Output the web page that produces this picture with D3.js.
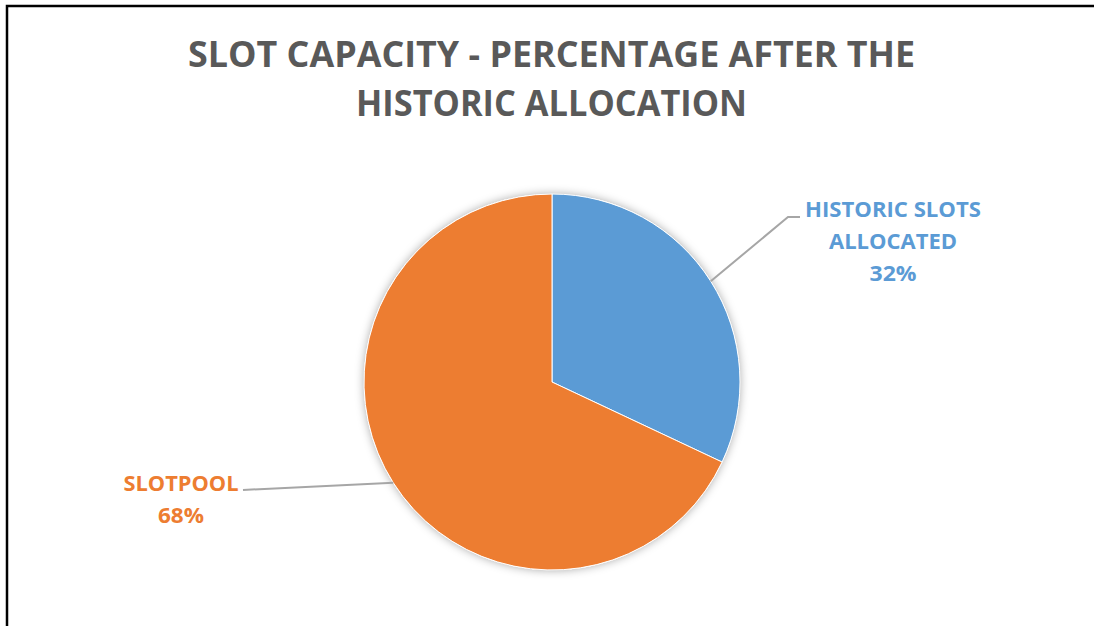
<!DOCTYPE html>
<html>
<head>
<meta charset="utf-8">
<script src="https://cdn.jsdelivr.net/npm/d3@7"></script>
<style>
  html, body { margin: 0; padding: 0; background: #fff; }
  svg { display: block; }
</style>
</head>
<body>
<svg id="chart" width="1094" height="626"></svg>
<script>
// ---- data ----
const categories = ["HISTORIC SLOTS ALLOCATED", "SLOTPOOL"];
const values = [32, 68];
const labelLines = [["HISTORIC SLOTS", "ALLOCATED"], ["SLOTPOOL"]];
const colors = ["#5B9BD5", "#ED7D31"];
const titleLines = ["SLOT CAPACITY - PERCENTAGE AFTER THE", "HISTORIC ALLOCATION"];

// ---- layout ----
const W = 1094, H = 626;
const cx = 552, cy = 382, R = 188;
const FONT = "'Open Sans', 'Noto Sans', sans-serif";

const svg = d3.select("#chart");

// defs: soft shadow
const defs = svg.append("defs");
const f = defs.append("filter").attr("id", "shadow")
  .attr("x", "-20%").attr("y", "-20%").attr("width", "140%").attr("height", "140%");
f.append("feDropShadow").attr("dx", 0).attr("dy", 0)
  .attr("stdDeviation", 5).attr("flood-color", "#000").attr("flood-opacity", 0.35);

// border (only top and left visible in the frame)
svg.append("rect").attr("x", 7).attr("y", 6).attr("width", 1300).attr("height", 1000)
  .attr("fill", "none").attr("stroke", "#000").attr("stroke-width", 2.5);

function fit(textSel, target) {
  textSel.each(function () {
    const w = this.getComputedTextLength();
    if (target && Math.abs(w - target) > 1) {
      d3.select(this).attr("textLength", target).attr("lengthAdjust", "spacingAndGlyphs");
    }
  });
}

// title
const titleBase = [67, 116];
const titleWidths = [727, 391];
titleLines.forEach((t, i) => {
  const tx = svg.append("text")
    .attr("x", 551.5).attr("y", titleBase[i])
    .attr("text-anchor", "middle")
    .attr("font-family", FONT).attr("font-weight", 700)
    .attr("font-size", 35).attr("fill", "#595959")
    .text(t);
  fit(tx, titleWidths[i]);
});

// pie
const pie = d3.pie().sort(null).value(d => d)(values);
const arc = d3.arc().innerRadius(0).outerRadius(R);
const g = svg.append("g").attr("transform", `translate(${cx},${cy})`);
g.append("circle").attr("r", R).attr("fill", "#fff").attr("filter", "url(#shadow)");
g.selectAll("path.slice").data(pie).join("path")
  .attr("class", "slice")
  .attr("d", arc)
  .attr("fill", (d, i) => colors[i])
  .attr("stroke", "#fff").attr("stroke-width", 1);

// leader lines & labels
const fmt = v => Math.round(v) + "%";
const total = d3.sum(values);
const labelPos = [
  { x: 893, y: 217, bend: [788, 217], end: [800, 217], widths: [176, 128, 47] },
  { x: 181, y: 491, bend: null, end: [243, 490], widths: [115, 46] }
];

pie.forEach((d, i) => {
  const mid = (d.startAngle + d.endAngle) / 2;
  const sx = cx + R * Math.sin(mid), sy = cy - R * Math.cos(mid);
  const lp = labelPos[i];
  const pts = [[sx, sy]];
  if (lp.bend) pts.push(lp.bend);
  pts.push(lp.end);
  svg.append("path")
    .attr("d", d3.line()(pts))
    .attr("fill", "none").attr("stroke", "#A6A6A6").attr("stroke-width", 2);

  const lines = labelLines[i].concat([fmt(values[i] / total * 100)]);
  lines.forEach((ln, k) => {
    const t = svg.append("text")
      .attr("x", lp.x).attr("y", lp.y + k * 32)
      .attr("text-anchor", "middle")
      .attr("font-family", FONT).attr("font-weight", 700)
      .attr("font-size", 21).attr("fill", colors[i])
      .text(ln);
    fit(t, lp.widths[k]);
  });
});
</script>
</body>
</html>
